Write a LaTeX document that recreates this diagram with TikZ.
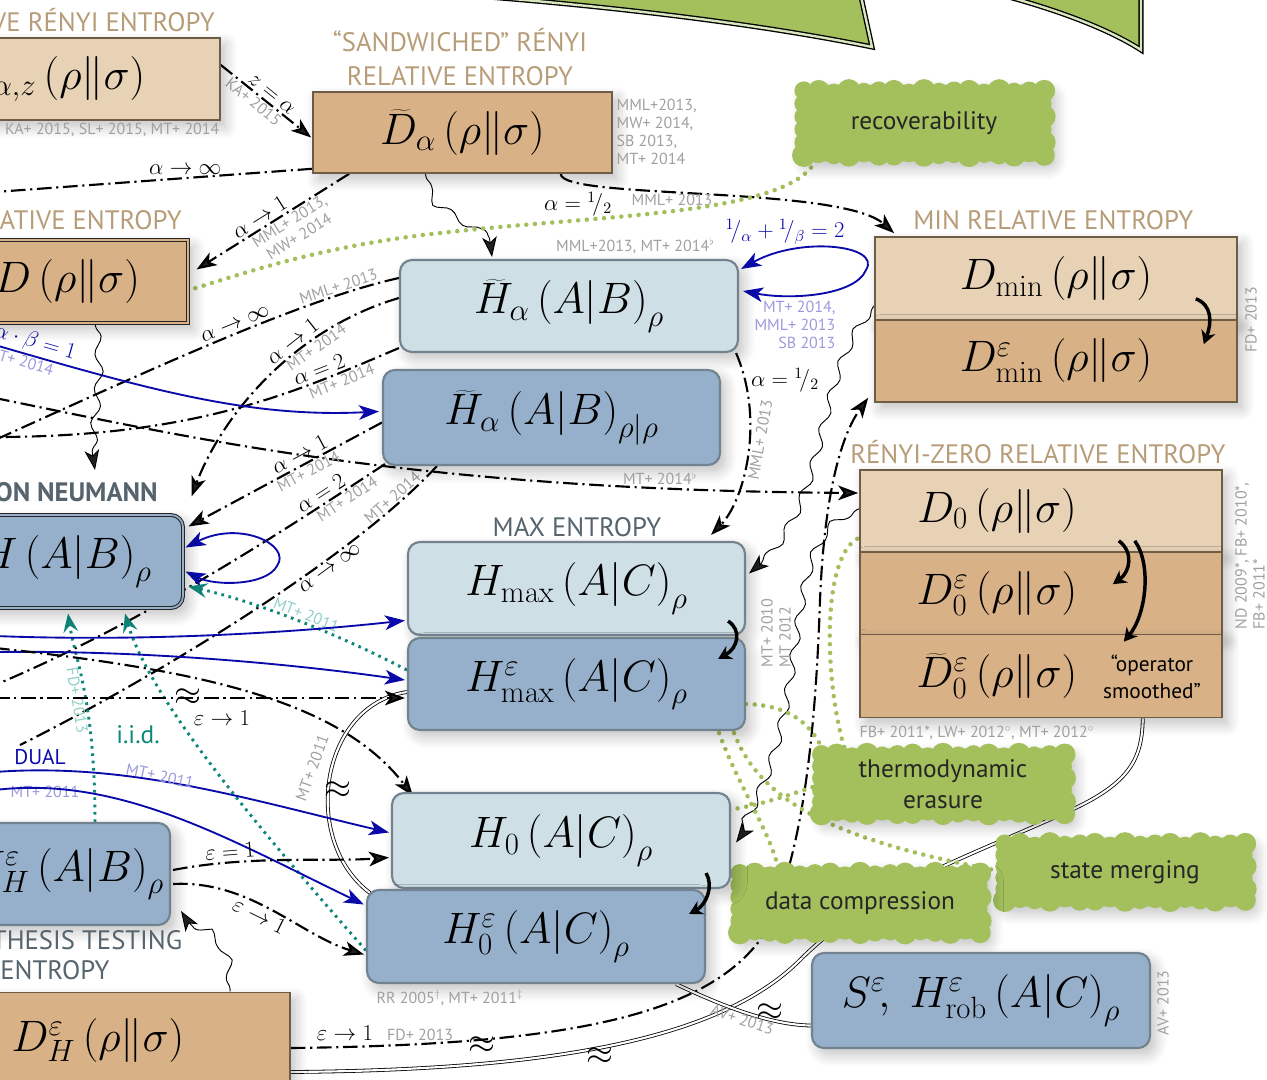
\RequirePackage{fix-cm}
\documentclass[tikz,border=0pt]{standalone}
\usepackage[no-math]{fontspec}
\setmainfont{PT Sans}
\usetikzlibrary{calc,arrows.meta,decorations.pathmorphing,shadows.blur}
\pgfdeclarelayer{bg}
\pgfdeclarelayer{mid}
\pgfsetlayers{bg,mid,main}
\definecolor{tanL}{HTML}{E8D2B5}
\definecolor{tanD}{HTML}{D8B187}
\definecolor{tanB}{HTML}{6E5C46}
\definecolor{bluL}{HTML}{CEDFE6}
\definecolor{bluD}{HTML}{96B0CB}
\definecolor{bluB}{HTML}{72828E}
\definecolor{headT}{HTML}{B79C78}
\definecolor{headB}{HTML}{56646E}
\definecolor{greenC}{HTML}{A3C05C}
\definecolor{refG}{HTML}{A0A0A0}
\definecolor{arrB}{HTML}{0A0AAA}
\definecolor{refB}{HTML}{9A9ADE}
\definecolor{tealC}{HTML}{0E877B}
\definecolor{tealL}{HTML}{8FCFC6}
\definecolor{topG}{HTML}{D3DCCD}
\newcommand{\RSx}{\left(\rho\middle\|\sigma\right)}
\newcommand{\ABx}{\left(A\middle|B\right)}
\newcommand{\ACx}{\left(A\middle|C\right)}
\newcommand{\hlf}{{}^{1}\!/_{2}}
\begin{document}
\begin{tikzpicture}[x=0.75pt,y=-0.75pt,
  M/.style={font=\fontsize{33}{38}\selectfont},
  shd/.style={blur shadow={shadow xshift=4pt,shadow yshift=-5pt,shadow blur radius=9pt,shadow blur steps=10,shadow opacity=25}},
  tanbox/.style={draw=tanB,line width=1.2pt,fill=tanD,inner sep=0pt,shd,M},
  tanlbox/.style={tanbox,fill=tanL},
  bbox/.style={draw=bluB,line width=1.6pt,fill=bluD,rounded corners=9pt,inner sep=0pt,shd,M},
  lbbox/.style={bbox,fill=bluL},
  headt/.style={text=headT,font=\fontsize{20}{25}\selectfont,inner sep=0pt},
  headb/.style={text=headB,font=\fontsize{20}{23}\selectfont,inner sep=0pt},
  ref/.style={text=refG,font=\fontsize{12}{13.5}\selectfont,inner sep=1pt},
  refb/.style={text=refB,font=\fontsize{12}{13.5}\selectfont,inner sep=1pt},
  reft/.style={text=tealL,font=\fontsize{12}{13.5}\selectfont,inner sep=1pt},
  lab/.style={font=\fontsize{17}{20}\selectfont,inner sep=2pt},
  apx/.style={font=\fontsize{26}{28}\selectfont,inner sep=0pt},
  arr/.style={-{Stealth[length=15pt,width=11pt,inset=4pt]}},
  barr/.style={{Stealth[length=15pt,width=11pt,inset=4pt]}-{Stealth[length=15pt,width=11pt,inset=4pt]}},
  dd/.style={line width=1.6pt,dash pattern=on 11pt off 3.5pt on 1.6pt off 3.5pt},
  bl/.style={draw=arrB,line width=1.4pt},
  wav/.style={decorate,decoration={snake,amplitude=3pt,segment length=26pt,pre length=2pt,post length=8pt},line width=0.7pt},
  dbl/.style={double=white,double distance=1.6pt,line width=0.6pt},
  gdot/.style={draw=greenC,line width=3.4pt,line cap=round,dash pattern=on 0pt off 6.5pt},
  tdot/.style={draw=tealC,line width=2.2pt,dash pattern=on 2pt off 3.5pt},
  tarr/.style={-{Stealth[length=14pt,width=11pt,inset=5pt]}},
  bent/.style={line width=2.6pt,-{Stealth[length=10pt,width=11pt]}},
  clt/.style={rectangle,inner sep=0pt,font=\fontsize{19}{23}\selectfont,text=black!85,align=center}
]
\useasboundingbox (0,0) rectangle (1267,1080);
\clip (0,0) rectangle (1267,1080);
\begin{pgfonlayer}{bg}
\fill[white] (0,0) rectangle (1267,1080);
\shade[top color=topG,bottom color=white] (0,-2) rectangle (1267,40);
\end{pgfonlayer}
% first shadow use, outside the page
\node[shd,fill=white,minimum size=5pt] (warm) at (-400,-400) {};

% top green shape
\filldraw[fill=greenC,draw=black,double=white!60!greenC,double distance=1.8pt,line width=1pt]
  (420,-8) .. controls (600,4) and (760,24) .. (872,47) -- (860,-8) -- cycle;
\filldraw[fill=greenC,draw=black,double=white!60!greenC,double distance=1.8pt,line width=1pt]
  (990,-8) .. controls (1060,10) and (1110,30) .. (1141,50) -- (1141,-8) -- cycle;

% ---------- boxes ----------
\node[tanlbox,minimum width=210pt,minimum height=61.5pt] (Daz) at (80,79) {};
\node[M] (Dazt) at (51,79) {$D_{\alpha,z}\RSx$};
\node[tanbox,minimum width=224.25pt,minimum height=60.75pt] (Dt) at (462.5,132.5) {$\widetilde{D}_\alpha\RSx$};
\node[tanbox,draw=black!85,double=tanD,double distance=1.3pt,line width=0.8pt,minimum width=181.5pt,minimum height=62.25pt] (D) at (67,281.5) {$D\RSx$};
\node[lbbox,minimum width=253.5pt,minimum height=69pt] (Ha) at (569,306) {$\widetilde{H}_\alpha\ABx_\rho$};
\node[bbox,minimum width=252.75pt,minimum height=71.25pt] (Har) at (551.5,417.5) {$\widetilde{H}_\alpha\ABx_{\rho|\rho}$};
\node[tanlbox,minimum width=271.5pt,minimum height=62.25pt] (Dmin) at (1056,278.5) {$D_{\mathrm{min}}\RSx$};
\node[tanbox,minimum width=271.5pt,minimum height=61.5pt] (Dmine) at (1056,361) {$D^{\varepsilon}_{\mathrm{min}}\RSx$};
\node[tanlbox,minimum width=271.5pt,minimum height=61.5pt] (D0a) at (1041,511) {};
\node[tanbox,minimum width=271.5pt,minimum height=62.25pt] (D0b) at (1041,593.5) {};
\node[tanbox,minimum width=271.5pt,minimum height=62.25pt] (D0c) at (1041,676) {};
\node[M] (D0at) at (997,511) {$D_0\RSx$};
\node[M] (D0bt) at (997,593.5) {$D^{\varepsilon}_0\RSx$};
\node[M] (D0ct) at (997,676) {$\widetilde{D}^{\varepsilon}_0\RSx$};
\node[font=\fontsize{16}{20}\selectfont,align=center] (opsm) at (1152,677) {“operator\\smoothed”};
\node[bbox,draw=black!85,double=bluD,double distance=1.3pt,line width=0.8pt,minimum width=177pt,minimum height=69.75pt] (HAB) at (65,561.5) {$H\ABx_\rho$};
\node[lbbox,minimum width=252.75pt,minimum height=69.75pt] (Hmax) at (576.5,588.5) {$H_{\mathrm{max}}\ACx_\rho$};
\node[bbox,minimum width=252.75pt,minimum height=69pt] (Hmaxe) at (576.5,684) {$H^{\varepsilon}_{\mathrm{max}}\ACx_\rho$};
\node[lbbox,minimum width=253.5pt,minimum height=71.25pt] (H0) at (561,840.5) {$H_0\ACx_\rho$};
\node[bbox,minimum width=253.5pt,minimum height=69.75pt] (H0e) at (536,936.5) {$H^{\varepsilon}_0\ACx_\rho$};
\node[bbox,minimum width=157.5pt,minimum height=76.5pt] (HH) at (65,874) {$H^{\varepsilon}_H\ABx_\rho$};
\node[tanbox,minimum width=288pt,minimum height=71.25pt] (DH) at (98,1040) {$D^{\varepsilon}_H\RSx$};
\node[bbox,minimum width=253.5pt,minimum height=71.25pt] (S) at (981,1000.5) {$S^{\varepsilon}\!,\;H^{\varepsilon}_{\mathrm{rob}}\ACx_\rho$};

% clouds (text nodes; painted backgrounds on the mid layer)
\node[clt,minimum width=180pt,minimum height=48pt] (recov) at (924,123) {recoverability};
\node[clt,minimum width=182pt,minimum height=44pt] (thermo) at (943,784) {thermodynamic\\erasure};
\node[clt,minimum width=180pt,minimum height=42pt] (state) at (1125,872) {state merging};
\node[clt,minimum width=180pt,minimum height=44pt] (data) at (860,903) {data compression};
\begin{pgfonlayer}{mid}
\foreach \c in {recov,thermo,state,data}{
  \fill[greenC,rounded corners=6pt,shd] ($(\c.south west)+(-6,6)$) rectangle ($(\c.north east)+(6,-6)$);
  \foreach \t in {0,0.0625,...,1.01}{
    \fill[greenC] ($(\c.north west)!\t!(\c.north east)$) circle ({7pt+1.8pt*sin(\t*2300)});
    \fill[greenC] ($(\c.south west)!\t!(\c.south east)$) circle ({7pt+1.8pt*cos(\t*2100)});
  }
  \foreach \t in {0.2,0.4,0.6,0.8}{
    \fill[greenC] ($(\c.north west)!\t!(\c.south west)$) circle ({7pt+1.5pt*sin(\t*900)});
    \fill[greenC] ($(\c.north east)!\t!(\c.south east)$) circle ({7pt+1.5pt*cos(\t*900)});
  }
}
\end{pgfonlayer}

% headings
\node[headt,anchor=east] (hAz) at (215,20) {RELATIVE RÉNYI ENTROPY};
\node[headt,align=center] (hSand) at (460,57) {“SANDWICHED” RÉNYI\\RELATIVE ENTROPY};
\node[headt,anchor=east] (hD) at (182,220) {RELATIVE ENTROPY};
\node[headt,anchor=west] (hMin) at (913,220) {MIN RELATIVE ENTROPY};
\node[headt,anchor=west] (hD0) at (850,452) {RÉNYI-ZERO RELATIVE ENTROPY};
\node[headb,anchor=east,font=\fontsize{20}{23}\bfseries] (hVN) at (158,492) {VON NEUMANN};
\node[headb] (hMax) at (577,527) {MAX ENTROPY};
\node[headb,align=center,font=\fontsize{20}{23}\selectfont] (hHT) at (55,955) {HYPOTHESIS TESTING\\ENTROPY};

% reference notes
\node[ref,anchor=north east] (rAz) at (221,122) {KA+ 2015, SL+ 2015, MT+ 2014};
\node[ref,anchor=north west,align=left] (rDt) at (615,98) {MML+2013,\\MW+ 2014,\\SB 2013,\\MT+ 2014};
\node[ref,anchor=east] (rHa) at (716,246) {MML+2013, MT+ 2014$^\flat$};
\node[ref] (rHar) at (660,478) {MT+ 2014$^\flat$};
\node[ref,rotate=90] (rFD) at (1251,320) {FD+ 2013};
\node[ref,rotate=90,align=left] (rND) at (1250,556) {ND 2009*, FB+ 2010*,\\FB+ 2011*};
\node[ref,anchor=west] (rD0) at (858,733) {FB+ 2011*, LW+ 2012$^\circ$, MT+ 2012$^\circ$};
\node[ref,rotate=90,align=left] (rMT) at (776,633) {MT+ 2010\\MT 2012};
\node[ref,anchor=west] (rH0) at (375,998) {RR 2005$^\dagger$, MT+ 2011$^\ddagger$};
\node[ref,rotate=90] (rAV) at (1163,1003) {AV+ 2013};

% named free ends
\coordinate (Linf) at (-5,192);
\coordinate (La) at (-5,440);
\coordinate (Lb) at (-5,437);
\coordinate (Lc) at (-5,685);
\coordinate (Ld) at (20,745);
\coordinate (Le) at (-5,398);
\coordinate (Lf) at (-5,345);
\coordinate (Lg) at (-5,636);
\coordinate (Lh) at (-5,652);
\coordinate (Li) at (-5,648);
\coordinate (Lj) at (-5,698);
\coordinate (Lk) at (-5,772);
\coordinate (Ll) at (-5,790);
\coordinate (vnA) at (95,470);

% bent arrows inside boxes
\draw[bent] ($(Dmin.south east)+(-42,-22)$) .. controls (1212,305) and (1212,322) .. ($(Dmine.north east)+(-34,25)$);
\draw[bent] ($(Hmax.south east)+(-18,-15)$) .. controls (742,630) and (738,648) .. ($(Hmaxe.north east)+(-28,22)$);
\draw[bent] ($(H0.south east)+(-25,-16)$) .. controls (714,886) and (706,905) .. ($(H0e.north east)+(-17,25)$);
\draw[bent] ($(D0a.south east)+(-104,-12)$) .. controls (1134,552) and (1130,572) .. ($(D0b.north east)+(-110,33)$);
\draw[bent] ($(D0a.south east)+(-88,-12)$) .. controls (1152,565) and (1146,615) .. ($(D0c.north east)+(-99,8)$);

\begin{pgfonlayer}{bg}
% 1
\draw[dd,arr] ($(Daz.east)+(0,-14)$) -- ($(Dt.west)+(-1,5)$) node[lab,sloped,above,pos=.5]{$z=\alpha$} node[ref,sloped,below,pos=.42]{KA+ 2015};
% 2
\draw[dd] ($(Dt.south west)+(0,-5)$) -- (Linf) node[lab,above,pos=.4]{$\alpha\to\infty$};
% 3
\draw[dd,arr] ($(Dt.south west)+(37,0)$) -- ($(D.north east)+(8,30)$) node[lab,sloped,above,pos=.55]{$\alpha\to1$} node[ref,sloped,below,pos=.42,align=center]{MML+ 2013,\\MW+ 2014};
% 4
\draw[wav,arr] ($(Dt.south)+(-37,0)$) .. controls (430,215) and (490,205) .. ($(Ha.north)+(-77,-2)$);
% 5
\draw[dd,arr] ($(Dt.south east)+(-52,0)$) .. controls (560,200) and (840,185) .. ($(Dmin.north west)+(20,-3)$);
\node[lab] (l5) at (578,204) {$\alpha=\hlf$};
\node[ref] (r5) at (672,200) {MML+ 2013};
% 6
\draw[gdot] ($(recov.south west)+(12,5)$) .. controls (790,215) and (600,215) .. (450,232) .. controls (320,245) and (240,275) .. ($(D.east)+(2,8)$);
% 7
\draw[bl,barr] ($(Ha.east)+(2,-37)$) .. controls (800,236) and (882,245) .. (866,270) .. controls (855,296) and (790,300) .. ($(Ha.east)+(4,-15)$);
\node[lab,text=arrB] (l7) at (785,232) {${}^1\!/_\alpha+{}^1\!/_\beta=2$};
\node[refb,align=right,anchor=north east] (r7) at (837,300) {MT+ 2014,\\MML+ 2013\\SB 2013};
% 8
\draw[wav,arr] ($(Dmin.south west)+(0,-15)$) .. controls (815,380) and (840,500) .. ($(Hmax.east)+(3,-15)$);
% 9
\draw[dd,arr] ($(Ha.south east)+(-3,0)$) .. controls (765,420) and (745,500) .. ($(Hmax.north east)+(-35,-6)$);
\node[lab] (l9) at (785,380) {$\alpha=\hlf$};
\node[ref,rotate=80] (r9) at (760,440) {MML+ 2013};
% 10
\draw[dbl] ($(DH.east)+(0,32)$) .. controls (550,1070) and (720,1040) .. (800,960) .. controls (870,890) and (960,860) .. (1060,815) .. controls (1130,785) and (1142,760) .. ($(D0c.south east)+(-80,0)$);
\node[apx] (a10) at (600,1056) {$\approx$};
% 11
\draw[dd,arr] ($(DH.east)+(0,8)$) .. controls (550,1045) and (700,1020) .. (760,940) .. controls (800,870) and (815,750) .. (820,600) .. controls (825,480) and (845,430) .. ($(Dmine.south west)+(-6,-5)$);
\node[lab] (l11) at (345,1033) {$\varepsilon\to1$};
\node[ref] (r11) at (420,1035) {FD+ 2013};
\node[apx] (a11) at (482,1045) {$\approx$};
% 12
\draw[dbl] ($(H0e.south east)+(-30,0)$) .. controls (720,1005) and (770,1025) .. ($(S.west)+(0,25)$) node[ref,sloped,below,pos=.5]{AV+ 2013};
\node[apx] (a12) at (770,1012) {$\approx$};
% 13
\draw[dbl] ($(Hmaxe.west)+(0,8)$) .. controls (320,705) and (300,840) .. ($(H0e.north west)+(4,4)$);
\node[apx] (a13) at (338,790) {$\approx$};
\node[ref,rotate=70] (r13) at (312,768) {MT+ 2011};
% 14
\draw[wav,arr] ($(D0a.south west)+(0,-44)$) .. controls (780,540) and (830,720) .. ($(H0.east)+(5,2)$);
% 15
\draw[dd,arr] (Le) .. controls (200,440) and (420,490) .. ($(D0a.west)+(-1,-18)$);
% 16
\draw[dd] ($(Ha.west)+(0,-28)$) .. controls (300,300) and (150,370) .. (La) node[lab,sloped,above,pos=.45]{$\alpha\to\infty$} node[ref,sloped,above,pos=.18]{MML+ 2013};
% 17
\draw[dd,arr] ($(Ha.west)+(0,-8)$) .. controls (290,330) and (220,420) .. ($(HAB.north east)+(8,-18)$) node[lab,sloped,above,pos=.35]{$\alpha\to1$} node[ref,sloped,below,pos=.3]{MT+ 2014};
% 18
\draw[dd] ($(Ha.south west)+(0,-5)$) .. controls (300,390) and (200,437) .. (Lb) node[lab,sloped,above,pos=.25]{$\alpha=2$} node[ref,sloped,below,pos=.2]{MT+ 2014};
% 19
\draw[dd,arr] ($(Har.west)+(0,5)$) -- ($(HAB.north east)+(5,12)$) node[lab,sloped,above,pos=.4]{$\alpha\to1$} node[ref,sloped,below,pos=.4]{MT+ 2014};
% 20
\draw[dd] ($(Har.south west)+(3,-2)$) .. controls (300,520) and (150,620) .. (Lc) node[lab,sloped,above,pos=.2]{$\alpha=2$} node[ref,sloped,below,pos=.15]{MT+ 2014};
% 21
\draw[dd] ($(Har.south west)+(55,0)$) .. controls (350,560) and (150,680) .. (Ld) node[lab,sloped,below,pos=.32]{$\alpha\to\infty$} node[ref,sloped,above,pos=.13]{MT+ 2014};
% 22
\draw[bl,arr] (Lf) .. controls (150,390) and (250,418) .. ($(Har.west)+(-3,-6)$) node[lab,text=arrB,sloped,above,pos=.08]{$\alpha\cdot\beta=1$} node[refb,sloped,below,pos=.06]{MT+ 2014};
% 23
\draw[bl,barr] ($(HAB.east)+(2,-14)$) .. controls (240,520) and (292,545) .. (277,566) .. controls (266,586) and (215,586) .. ($(HAB.east)+(2,10)$);
% 24
\draw[tdot,tarr] ($(Hmaxe.west)+(0,-14)$) .. controls (330,630) and (250,600) .. ($(HAB.south east)+(5,-22)$) node[reft,sloped,above,pos=.45]{MT+ 2011};
% 25
\draw[tdot,tarr] ($(HH.north)+(30,0)$) .. controls (95,700) and (75,660) .. ($(HAB.south)+(3,5)$) node[reft,sloped,below,pos=.45]{FD+ 2013};
\node[text=tealC,font=\fontsize{19}{22}\selectfont] (iid) at (138,735) {i.i.d.};
% 26
\draw[tdot,tarr] ($(H0e.west)+(0,14)$) .. controls (260,830) and (150,700) .. ($(HAB.south)+(60,5)$);
% 27, 28
\draw[bl,arr] (Lg) .. controls (150,642) and (300,632) .. ($(Hmax.west)+(-2,32)$);
\draw[bl,arr] (Lh) .. controls (150,650) and (300,665) .. ($(Hmaxe.west)+(-2,-4)$);
% 29
\draw[dd,arr] (Li) .. controls (200,670) and (340,700) .. ($(H0.north west)+(22,4)$);
% 30
\draw[dd,arr] (Lj) -- ($(Hmaxe.west)+(-2,14)$);
\node[apx] (a30) at (188,697) {$\approx$};
\node[lab] (l30) at (222,718) {$\varepsilon\to1$};
% 31
\draw[bl,arr] (Lk) .. controls (130,762) and (250,800) .. ($(H0.west)+(-2,-8)$);
\node[text=arrB,font=\fontsize{16}{19}\selectfont] (dual) at (40,757) {DUAL};
\node[refb] (r31) at (45,792) {MT+ 2011};
\node[refb,rotate=-12] (r31b) at (160,776) {MT+ 2011};
% 32
\draw[bl,arr] (Ll) .. controls (120,775) and (230,840) .. ($(H0e.west)+(-2,-32)$);
% 33
\draw[dd,arr] ($(HH.east)+(2,-4)$) .. controls (250,855) and (330,862) .. ($(H0.west)+(-2,17)$) node[lab,sloped,above,pos=.25]{$\varepsilon=1$};
% 34
\draw[dd,arr] ($(HH.east)+(2,10)$) .. controls (250,880) and (300,935) .. ($(H0e.west)+(-2,18)$) node[lab,sloped,below,pos=.45]{$\varepsilon\to1$};
% 35
\draw[wav,arr] ($(DH.north)+(132,0)$) .. controls (232,940) and (195,940) .. ($(HH.south east)+(10,-15)$);
% 36
\draw[wav,arr] ($(D.south)+(28,0)$) .. controls (105,380) and (85,420) .. (vnA);
% 37 green dotted
\draw[gdot] ($(D0a.south west)+(-2,-14)$) .. controls (820,560) and (825,690) .. ($(thermo.north west)+(25,0)$);
\draw[gdot] ($(Hmaxe.east)+(0,20)$) .. controls (790,705) and (815,725) .. ($(thermo.north west)+(5,5)$);
\draw[gdot] ($(Hmaxe.south east)+(-27,2)$) .. controls (740,790) and (770,830) .. ($(data.north west)+(40,0)$);
\draw[gdot] ($(Hmaxe.south east)+(-12,2)$) .. controls (760,800) and (830,840) .. (state.west);
\draw[gdot] ($(H0.north east)+(-2,18)$) .. controls (760,805) and (790,795) .. (thermo.west);
\end{pgfonlayer}
\end{tikzpicture}
\end{document}
